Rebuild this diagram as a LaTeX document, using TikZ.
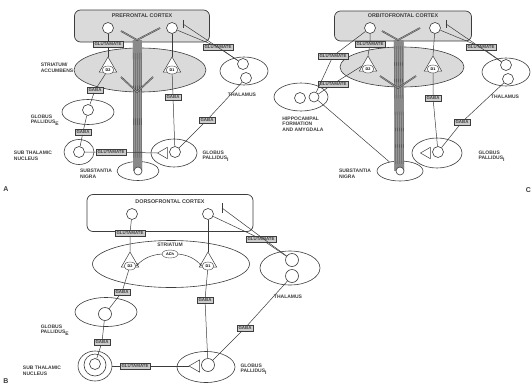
\documentclass[tikz,border=0pt]{standalone}
\usepackage{fontspec}
\setmainfont{Liberation Sans}
\usetikzlibrary{arrows.meta,positioning,calc,shapes.geometric}
\definecolor{ink}{RGB}{60,60,60}
\definecolor{boxgray}{RGB}{218,218,218}
\definecolor{txgray}{RGB}{205,205,205}
\definecolor{colgray}{RGB}{150,150,150}
\tikzset{
  ctx/.style={draw=ink, rounded corners=6pt, line width=0.7pt},
  nuc/.style={draw=ink, ellipse, inner sep=0pt, line width=0.6pt},
  cell/.style={draw=ink, circle, fill=white, minimum size=11pt, inner sep=0pt, line width=0.6pt},
  rcp/.style={draw=ink, fill=white, regular polygon, regular polygon sides=3,
              minimum size=20pt, inner sep=0pt, line width=0.5pt},
  rcell/.style={draw=ink, ellipse, fill=white, minimum width=12pt, minimum height=8pt,
                inner sep=0pt, font=\fontsize{3.8}{4}\selectfont\bfseries},
  tx/.style={draw=ink, fill=txgray, inner xsep=1.6pt, inner ysep=1.2pt,
             font=\fontsize{4.4}{5}\selectfont\bfseries, text=ink},
  lbl/.style={font=\fontsize{5}{5.6}\selectfont\bfseries, text=ink, align=left},
  ttl/.style={font=\fontsize{5.4}{6}\selectfont\bfseries, text=ink},
  pth/.style={draw=ink, line width=0.5pt},
  arm/.style={draw=ink, line width=0.4pt, double=colgray, double distance=0.8pt},
  panel/.style={font=\fontsize{7}{8}\selectfont\bfseries, text=ink},
}

\begin{document}
\begin{tikzpicture}[x=1pt,y=-1pt]
  \useasboundingbox (0,0) rectangle (532,388);

  % ---------------- A ----------------
  \node[ctx, fill=boxgray, minimum width=135pt, minimum height=32pt] (pfcA) at (142,26) {};
  \node[ttl] at (142,16) {PREFRONTAL CORTEX};
  \node[nuc, fill=boxgray, minimum width=132pt, minimum height=44pt] (strA) at (140,70) {};
  \node[nuc, minimum width=42pt, minimum height=19pt] (snA) at (138,171) {};
  \coordinate (forkA) at (137,40);
  \coordinate (splitA) at (137,92);
  \fill[colgray] ($(forkA)+(-4,0)$) rectangle ($(snA.center)+(4,0)$);
  \foreach \s in {-4,-2,0,2,4}
    \draw[ink, line width=0.3pt] ($(forkA)+(\s,0)$) -- ($(snA.center)+(\s,0)$);
  \coordinate (armAl) at (121,31);
  \coordinate (armAr) at (160,28);
  \coordinate (armAd2) at (121,77);
  \coordinate (armAd1) at (153,77);
  \draw[arm] (armAl) -- (forkA) -- (armAr);
  \draw[arm] (armAd2) -- (splitA) -- (armAd1);
  \node[cell] (pfcAl) at (108,28) {};
  \node[cell] (pfcAr) at (172,28) {};
  \node[rcp] (d2At) at (108,67) {};
  \node[rcell] (d2A) at (108,70) {D2};
  \node[rcp] (d1At) at (172,67) {};
  \node[rcell] (d1A) at (172,70) {D1};
  \node[nuc, minimum width=48pt, minimum height=28pt] (thA) at (244,71) {};
  \node[cell] (thAa) at (243,64) {};
  \node[cell] (thAb) at (246,78) {};
  \node[nuc, minimum width=52pt, minimum height=25pt] (gpeA) at (88,112) {};
  \node[cell] (gpeAc) at (88,110) {};
  \node[nuc, minimum width=30pt, minimum height=25pt] (stnA) at (79,152) {};
  \node[cell] (stnAc) at (79,152) {};
  \node[nuc, minimum width=46pt, minimum height=28pt] (gpiA) at (174,153) {};
  \node[rcp, minimum size=13pt, shape border rotate=90] (gpiAt) at (164,153) {};
  \node[cell] (gpiAc) at (175,152) {};
  \node[cell, minimum size=8pt] (snAc) at (138,171) {};
  \coordinate (tkA) at (183,24);
  \draw[pth] ($(tkA)+(0,-4)$) -- ($(tkA)+(0,4)$);

  \node[tx] (gluA1) at (108,44) {GLUTAMATE};
  \node[tx] (gluA2) at (218,47) {GLUTAMATE};
  \node[tx] (gabaA1) at (95,90) {GABA};
  \node[tx] (gabaA2) at (83,132) {GABA};
  \node[tx] (gluA3) at (111,152) {GLUTAMATE};
  \node[tx] (gabaA3) at (173,97) {GABA};
  \node[tx] (gabaA4) at (207,120) {GABA};

  \draw[pth] (pfcAl) -- (gluA1) -- (d2At.north);
  \draw[pth] (pfcAr) -- (d1At.north);
  \draw[pth] (pfcAr) -- (gluA2) -- (thAa);
  \draw[pth] (thAa) -- (tkA);
  \draw[pth] (d2A) -- (gabaA1) -- (gpeAc);
  \draw[pth] (gpeAc) -- (gabaA2) -- (stnAc);
  \draw[pth] (stnAc) -- (gluA3) -- (gpiAt.west);
  \draw[pth] (d1A) -- (gabaA3) -- (gpiAc);
  \draw[pth] (gpiAc) -- (gabaA4) -- (thAb);

  \node[lbl] at (57,68) {STRIATUM/\\ACCUMBENS};
  \node[lbl] at (242,95) {THALAMUS};
  \node[lbl] at (45,120) {GLOBUS\\PALLIDUS\textsubscript{E}};
  \node[lbl] at (33,156) {SUB THALAMIC\\NUCLEUS};
  \node[lbl, anchor=west] at (199,156) {GLOBUS\\PALLIDUS\textsubscript{I}};
  \node[lbl] at (96,174) {SUBSTANTIA\\NIGRA};
  \node[panel] at (6,189) {A};

  % ---------------- C ----------------
  \node[ctx, fill=boxgray, minimum width=137pt, minimum height=30pt] (ofcC) at (403,26) {};
  \node[ttl] at (403,16) {ORBITOFRONTAL CORTEX};
  \node[nuc, fill=boxgray, minimum width=124pt, minimum height=40pt] (strC) at (402,67) {};
  \node[nuc, minimum width=46pt, minimum height=20pt] (snC) at (400,171) {};
  \coordinate (forkC) at (398,40);
  \coordinate (splitC) at (398,88);
  \fill[colgray] ($(forkC)+(-4,0)$) rectangle ($(snC.center)+(4,0)$);
  \foreach \s in {-4,-2,0,2,4}
    \draw[ink, line width=0.3pt] ($(forkC)+(\s,0)$) -- ($(snC.center)+(\s,0)$);
  \coordinate (armCl) at (382,31);
  \coordinate (armCr) at (420,28);
  \coordinate (armCd2) at (380,76);
  \coordinate (armCd1) at (416,76);
  \draw[arm] (armCl) -- (forkC) -- (armCr);
  \draw[arm] (armCd2) -- (splitC) -- (armCd1);
  \node[cell] (ofcCl) at (370,28) {};
  \node[cell] (ofcCr) at (435,28) {};
  \node[rcp] (d2Ct) at (368,66) {};
  \node[rcell] (d2C) at (368,69) {D2};
  \node[rcp] (d1Ct) at (433,66) {};
  \node[rcell] (d1C) at (433,69) {D1};
  \node[nuc, minimum width=48pt, minimum height=28pt] (thC) at (506,72) {};
  \node[cell] (thCa) at (506,65) {};
  \node[cell] (thCb) at (508,79) {};
  \node[nuc, minimum width=54pt, minimum height=28pt] (hipC) at (301,97) {};
  \node[cell] (hipCa) at (300,98) {};
  \node[cell, minimum size=10pt] (hipCb) at (314,97) {};
  \node[nuc, minimum width=50pt, minimum height=30pt] (gpiC) at (437,153) {};
  \node[rcp, minimum size=13pt, shape border rotate=90] (gpiCt) at (427,153) {};
  \node[cell] (gpiCc) at (438,152) {};
  \node[cell, minimum size=8pt] (snCc) at (400,171) {};
  \coordinate (tkC) at (446,24);
  \draw[pth] ($(tkC)+(0,-4)$) -- ($(tkC)+(0,4)$);

  \node[tx] (gluC1) at (370,44) {GLUTAMATE};
  \node[tx] (gluC2) at (333,56) {GLUTAMATE};
  \node[tx] (gluC3) at (333,84) {GLUTAMATE};
  \node[tx] (gluC4) at (481,47) {GLUTAMATE};
  \node[tx] (gabaC1) at (433,98) {GABA};
  \node[tx] (gabaC2) at (462,122) {GABA};

  \draw[pth] (ofcCl) -- (gluC1) -- (d2Ct.north);
  \draw[pth] (ofcCl) -- (gluC2) -- (hipCb);
  \draw[pth] (hipCb) -- (gluC3) -- (d2Ct.west);
  \draw[pth] (hipCb) -- (snC);
  \draw[pth] (ofcCr) -- (d1Ct.north);
  \draw[pth] (ofcCr) -- (gluC4) -- (thCa);
  \draw[pth] (thCa) -- (tkC);
  \draw[pth] (d1C) -- (gabaC1) -- (gpiCc);
  \draw[pth] (gpiCc) -- (gabaC2) -- (thCb);

  \node[lbl] at (303,124) {HIPPOCAMPAL\\FORMATION\\AND AMYGDALA};
  \node[lbl] at (355,174) {SUBSTANTIA\\NIGRA};
  \node[lbl] at (505,97) {THALAMUS};
  \node[lbl, anchor=west] at (475,156) {GLOBUS\\PALLIDUS\textsubscript{I}};
  \node[panel, anchor=east, inner sep=1pt] at (532,190) {C};

  % ---------------- B ----------------
  \node[ctx, fill=white, minimum width=166pt, minimum height=37pt] (dfcB) at (170,213) {};
  \node[ttl] at (170,202) {DORSOFRONTAL CORTEX};
  \node[nuc, minimum width=157pt, minimum height=47pt] (strB) at (171,264) {};
  \node[lbl] at (170,245) {STRIATUM};
  \node[rcell, minimum width=16pt] (achB) at (170,254) {ACh};
  \node[cell] (dfcBl) at (132,214) {};
  \node[cell] (dfcBr) at (208,214) {};
  \node[rcp] (d2Bt) at (130,262) {};
  \node[rcell] (d2B) at (130,266) {D2};
  \node[rcp] (d1Bt) at (208,262) {};
  \node[rcell] (d1B) at (208,266) {D1};
  \node[nuc, minimum width=60pt, minimum height=34pt] (thB) at (290,268) {};
  \node[cell, minimum size=13pt] (thBa) at (292,260) {};
  \node[cell, minimum size=13pt] (thBb) at (292,276) {};
  \node[nuc, minimum width=62pt, minimum height=29pt] (gpeB) at (106,312) {};
  \node[cell, minimum size=13pt] (gpeBc) at (105,314) {};
  \node[nuc, minimum width=34pt, minimum height=30pt] (stnB) at (95,366) {};
  \node[nuc, minimum width=22pt, minimum height=22pt] (stnBi) at (95,365) {};
  \node[cell] (stnBc) at (95,364) {};
  \node[nuc, minimum width=58pt, minimum height=31pt] (gpiB) at (206,367) {};
  \node[rcp, minimum size=14pt, shape border rotate=90] (gpiBt) at (196,366) {};
  \node[cell, minimum size=13pt] (gpiBc) at (208,365) {};
  \coordinate (tkB) at (222,208);
  \draw[pth] ($(tkB)+(0,-5)$) -- ($(tkB)+(0,5)$);

  \node[tx] (gluB1) at (130,233) {GLUTAMATE};
  \node[tx] (gluB2) at (261,239) {GLUTAMATE};
  \node[tx] (gabaB1) at (122,292) {GABA};
  \node[tx] (gabaB2) at (102,342) {GABA};
  \node[tx] (gluB3) at (135,366) {GLUTAMATE};
  \node[tx] (gabaB3) at (205,300) {GABA};
  \node[tx] (gabaB4) at (245,328) {GABA};

  \draw[pth] (dfcBl) -- (gluB1) -- (d2Bt.north);
  \draw[pth] (dfcBr) -- (d1Bt.north);
  \draw[pth] (dfcBr) -- (gluB2) -- (thBa);
  \draw[pth] (thBa) -- (tkB);
  \draw[pth, -{Stealth[length=3pt]}] (achB.west) to[bend right=20] (d2B.east);
  \draw[pth, -{Stealth[length=3pt]}] (achB.east) to[bend left=20] (d1B.west);
  \draw[pth] (d2B) -- (gabaB1) -- (gpeBc);
  \draw[pth] (gpeBc) -- (gabaB2) -- (stnBc);
  \draw[pth] (stnB) -- (gluB3) -- (gpiBt.west);
  \draw[pth] (d1B) -- (gabaB3) -- (gpiBc);
  \draw[pth] (gpiBc) -- (gabaB4) -- (thBb);

  \node[lbl] at (288,297) {THALAMUS};
  \node[lbl] at (55,330) {GLOBUS\\PALLIDUS\textsubscript{E}};
  \node[lbl] at (42,371) {SUB THALAMIC\\NUCLEUS};
  \node[lbl, anchor=west] at (237,369) {GLOBUS\\PALLIDUS\textsubscript{I}};
  \node[panel] at (6,381) {B};
\end{tikzpicture}
\end{document}
